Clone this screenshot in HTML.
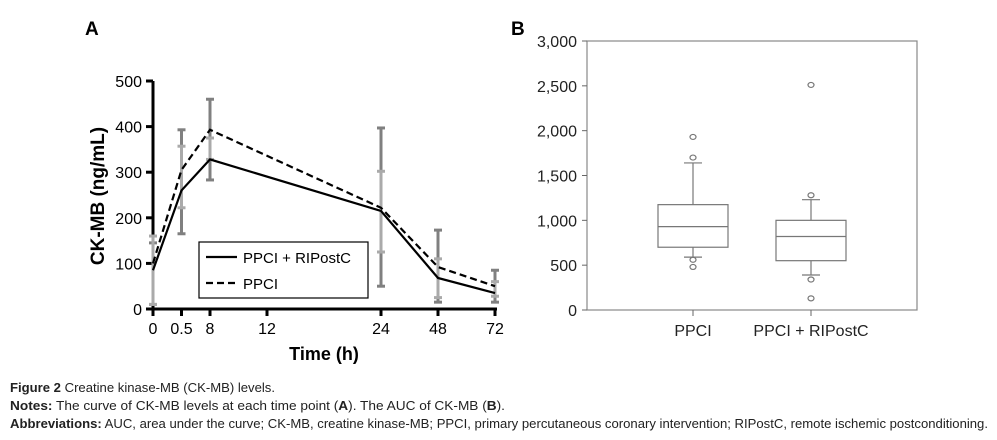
<!DOCTYPE html>
<html><head><meta charset="utf-8"><style>
body{margin:0;background:#fff;}
svg{display:block;font-family:"Liberation Sans",Arial,sans-serif;}
</style></head><body>
<svg id="fig" width="997" height="440" viewBox="0 0 997 440">
<text x="85" y="35" font-size="19" font-weight="bold">A</text>
<text x="511" y="35" font-size="19" font-weight="bold">B</text>
<g id="chartA"></g>
<g id="chartB"></g>
<g font-size="13" fill="#222">
<text x="10" y="392" textLength="265" lengthAdjust="spacingAndGlyphs"><tspan font-weight="bold">Figure 2</tspan> Creatine kinase-MB (CK-MB) levels.</text>
<text x="10" y="410" textLength="495" lengthAdjust="spacingAndGlyphs"><tspan font-weight="bold">Notes:</tspan> The curve of CK-MB levels at each time point (<tspan font-weight="bold">A</tspan>). The AUC of CK-MB (<tspan font-weight="bold">B</tspan>).</text>
<text x="10" y="428" textLength="978" lengthAdjust="spacingAndGlyphs"><tspan font-weight="bold">Abbreviations:</tspan> AUC, area under the curve; CK-MB, creatine kinase-MB; PPCI, primary percutaneous coronary intervention; RIPostC, remote ischemic postconditioning.</text>
</g>
</svg>
<script>
// Panel A data
const timeLabels = ["0","0.5","8","12","24","48","72"];
const timeSlots = [0,0.5,1,2,4,5,6];
const seriesIdx = [0,1,2,4,5,6]; // indices into timeLabels with data
const ripostc = [85,260,328,215,68,35];
const ppci = [100,305,393,222,92,50];
const ppciErrLo = [10,165,283,50,15,15];
const ppciErrHi = [145,393,460,397,173,85];
const ripErrLo = [10,222,328,125,25,28];
const ripErrHi = [160,357,375,302,110,60];
const yTicksA = [0,100,200,300,400,500];
// Panel B data
const groups = ["PPCI","PPCI + RIPostC"];
const whiskLo = [590,390];
const q1 = [700,550];
const med = [930,820];
const q3 = [1175,1000];
const whiskHi = [1640,1230];
const outliers = [[1930,1700,560,480],[2510,1280,340,130]];
const yTicksB = [0,500,1000,1500,2000,2500,3000];

const NS="http://www.w3.org/2000/svg";
function mk(p,t,a){const e=document.createElementNS(NS,t);for(const k in a)e.setAttribute(k,a[k]);p.appendChild(e);return e;}
// ---- A
const A=document.getElementById('chartA');
const xA=s=>153+s*57, yA=v=>309-v*0.456;
let e;
e=mk(A,'line',{x1:153,y1:yA(0),x2:153,y2:yA(500),stroke:'#000','stroke-width':3});

e=mk(A,'line',{x1:152,y1:309,x2:497,y2:309,stroke:'#000','stroke-width':3});

yTicksA.forEach(v=>{
 e=mk(A,'line',{x1:146,y1:yA(v),x2:153,y2:yA(v),stroke:'#000','stroke-width':3});
 
 e=mk(A,'text',{x:142,y:yA(v)+6,'text-anchor':'end','font-size':16});e.textContent=v;
 
});
timeLabels.forEach((l,i)=>{
 const x=xA(timeSlots[i]);
 e=mk(A,'line',{x1:x,y1:309,x2:x,y2:316,stroke:'#000','stroke-width':3});
 
 e=mk(A,'text',{x:x,y:334,'text-anchor':'middle','font-size':16});e.textContent=l;
 
});
e=mk(A,'text',{x:324,y:360,'text-anchor':'middle','font-size':18,'font-weight':'bold'});e.textContent='Time (h)';

e=mk(A,'text',{x:0,y:0,'text-anchor':'middle','font-size':19,'font-weight':'bold',transform:'translate(104,196) rotate(-90)'});e.textContent='CK-MB (ng/mL)';

function errs(lo,hi,col,name){
 seriesIdx.forEach((ti,i)=>{
  const x=xA(timeSlots[ti]);
  const g=mk(A,'g',{stroke:col,'stroke-width':3});
  
  mk(g,'line',{x1:x,y1:yA(lo[i]),x2:x,y2:yA(hi[i])});
  mk(g,'line',{x1:x-4,y1:yA(lo[i]),x2:x+4,y2:yA(lo[i])});
  mk(g,'line',{x1:x-4,y1:yA(hi[i]),x2:x+4,y2:yA(hi[i])});
 });
}
errs(ppciErrLo,ppciErrHi,'#808080','error-bar-ppci');
errs(ripErrLo,ripErrHi,'#aaaaaa','error-bar-ripostc');
function line(vals,dash,name){
 const pts=seriesIdx.map((ti,i)=>xA(timeSlots[ti])+','+yA(vals[i])).join(' ');
 const a={points:pts,fill:'none',stroke:'#000','stroke-width':2.2};
 if(dash)a['stroke-dasharray']='7,4';
 const p=mk(A,'polyline',a);
 
}
line(ripostc,false,'line-ppci-ripostc');
line(ppci,true,'line-ppci');
const lg=mk(A,'g',{});

mk(lg,'rect',{x:199,y:242,width:169,height:56,fill:'#fff',stroke:'#000','stroke-width':1.2});
e=mk(lg,'line',{x1:206,y1:257,x2:237,y2:257,stroke:'#000','stroke-width':2.2});

e=mk(lg,'text',{x:243,y:263,'font-size':15});e.textContent='PPCI + RIPostC';
e=mk(lg,'line',{x1:206,y1:283,x2:237,y2:283,stroke:'#000','stroke-width':2.2,'stroke-dasharray':'7,4'});

e=mk(lg,'text',{x:243,y:289,'font-size':15});e.textContent='PPCI';
// ---- B
const B=document.getElementById('chartB');
const yB=v=>310-v*(269/3000);
const xB=i=>693+i*118;
e=mk(B,'rect',{x:587,y:41,width:330,height:269,fill:'none',stroke:'#888','stroke-width':1.2});

yTicksB.forEach(v=>{
 e=mk(B,'line',{x1:582,y1:yB(v),x2:587,y2:yB(v),stroke:'#666'});
 
 e=mk(B,'text',{x:577,y:yB(v)+6,'text-anchor':'end','font-size':16,fill:'#222'});e.textContent=v.toLocaleString('en-US');
 
});
groups.forEach((gname,i)=>{
 const x=xB(i);
 const g=mk(B,'g',{stroke:'#777','stroke-width':1.2,fill:'none'});
 
 mk(g,'line',{x1:x,y1:yB(whiskLo[i]),x2:x,y2:yB(q1[i])});
 mk(g,'line',{x1:x,y1:yB(q3[i]),x2:x,y2:yB(whiskHi[i])});
 mk(g,'line',{x1:x-9,y1:yB(whiskLo[i]),x2:x+9,y2:yB(whiskLo[i])});
 mk(g,'line',{x1:x-9,y1:yB(whiskHi[i]),x2:x+9,y2:yB(whiskHi[i])});
 mk(g,'rect',{x:x-35,y:yB(q3[i]),width:70,height:yB(q1[i])-yB(q3[i]),fill:'#fff'});
 mk(g,'line',{x1:x-35,y1:yB(med[i]),x2:x+35,y2:yB(med[i])});
 outliers[i].forEach(o=>{
  const c=mk(g,'ellipse',{cx:x,cy:yB(o),rx:3,ry:2.5});
  
 });
 e=mk(B,'line',{x1:x,y1:310,x2:x,y2:316,stroke:'#666'});
 
 e=mk(B,'text',{x:x,y:336,'text-anchor':'middle','font-size':16,fill:'#222'});e.textContent=gname;
 
});
</script>
</body></html>
